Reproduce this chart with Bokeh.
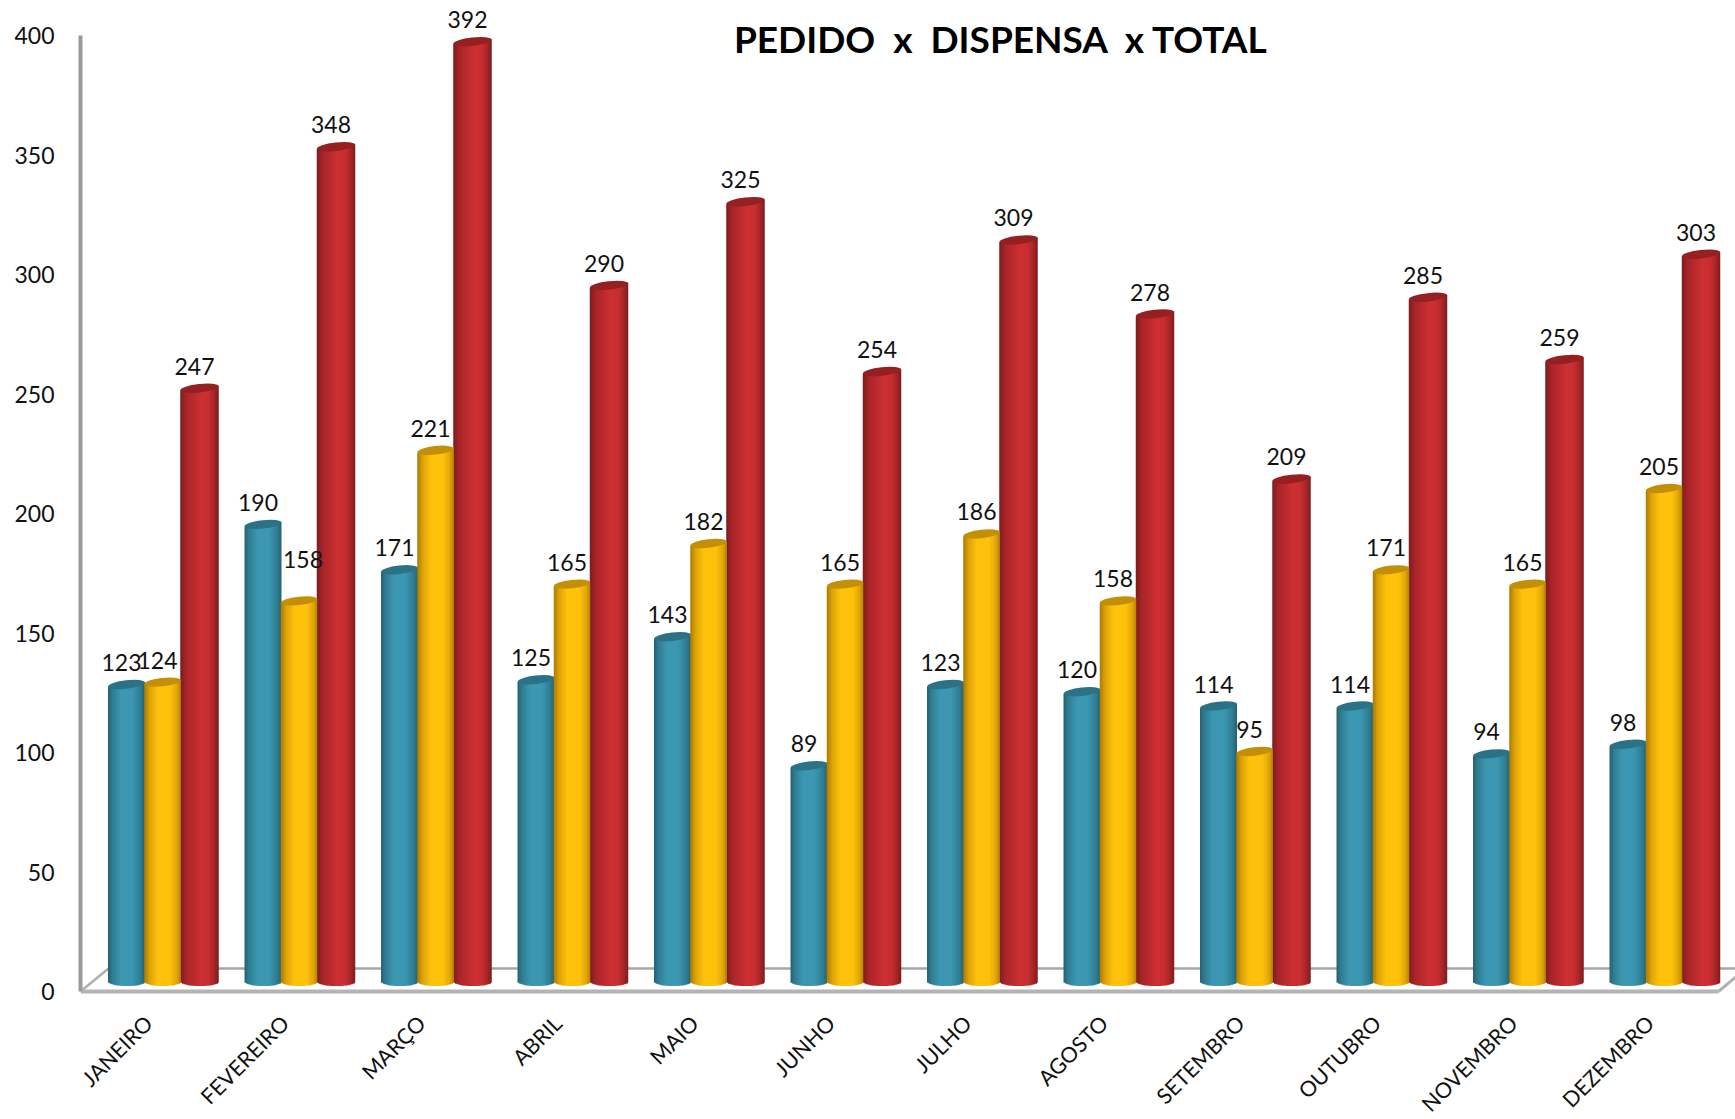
import numpy as np
from bokeh.embed import file_html
from bokeh.resources import INLINE
from bokeh.plotting import figure
from bokeh.models import Range1d, LinearAxis, FixedTicker, Label, ColumnDataSource
from bokeh.core.properties import value

meses = ["JANEIRO", "FEVEREIRO", "MARÇO", "ABRIL", "MAIO", "JUNHO", "JULHO",
         "AGOSTO", "SETEMBRO", "OUTUBRO", "NOVEMBRO", "DEZEMBRO"]
pedido = [123, 190, 171, 125, 143, 89, 123, 120, 114, 114, 94, 98]
dispensa = [124, 158, 221, 165, 182, 165, 186, 158, 95, 171, 165, 205]
total = [247, 348, 392, 290, 325, 254, 309, 278, 209, 285, 259, 303]
y_ticks = [0, 50, 100, 150, 200, 250, 300, 350, 400]
titulo = "PEDIDO \u00a0x \u00a0DISPENSA \u00a0x TOTAL"

W, H = 1735, 1119
LEFT, BOTTOM = 80, 991
PX_X = 136.5
PX_Y = 2.39
x0 = (LEFT - 162) / PX_X
x1 = (W - 162) / PX_X
y_floor = -13 / PX_Y
y0 = y_floor - (H - BOTTOM) / PX_Y
y1 = y_floor + BOTTOM / PX_Y
FONT = "Lato"

p = figure(width=W, height=H, output_backend="svg", toolbar_location=None,
           x_range=Range1d(x0, x1), y_range=Range1d(y0, y1),
           min_border_left=LEFT, min_border_right=0, min_border_top=0, min_border_bottom=0,
           outline_line_color=None, background_fill_color="white", x_axis_type=None, y_axis_type=None)
p.grid.visible = False

# Floor of the 3D box
back_y = 10 / PX_Y
xb = (108 - 162) / PX_X
p.line([xb, x1 + .1], [back_y, back_y], line_color="#a6a6a6", line_width=2.5)
p.line([x0, xb], [y_floor, back_y], line_color="#b0b0b0", line_width=2.5)
p.line([11.399, 11.53], [y_floor, y_floor + 15 / PX_Y], line_color="#b0b0b0", line_width=3)

# Axes
p.extra_y_ranges = {"eixo": Range1d(-(H - BOTTOM) / PX_Y, BOTTOM / PX_Y)}
ya = LinearAxis(y_range_name="eixo", ticker=FixedTicker(ticks=y_ticks), bounds=(0, 400),
                axis_line_color="#9a9a9a", axis_line_width=4,
                major_tick_line_color=None, minor_tick_line_color=None,
                major_label_text_font=FONT, major_label_text_font_size="23px",
                major_label_text_color="#111111", major_label_standoff=20)
p.add_layout(ya, "left")
xa = LinearAxis(ticker=FixedTicker(ticks=[]),
                axis_line_color="#b4b4b4", axis_line_width=4, bounds=(x0, 11.399),
                major_tick_line_color=None, minor_tick_line_color=None, fixed_location=y_floor)
p.add_layout(xa, "below")

# Month labels
mes_src = ColumnDataSource(dict(x=list(range(len(meses))), y=[y_floor] * len(meses), t=meses))
p.text(x="x", y="y", text="t", x_offset=-14, y_offset=28, angle=np.pi / 4, source=mes_src,
       text_align="right", text_baseline="middle", text_font=value(FONT),
       text_font_size="21.5px", text_color="#111111")


def lerp(profile, t):
    ts = [a for a, _ in profile]
    rgb = [[int(c[i:i + 2], 16) for _, c in profile] for i in (1, 3, 5)]
    return "#%02x%02x%02x" % tuple(int(round(np.interp(t, ts, ch))) for ch in rgb)


def cylinders(vals, dx_px, w_px, profile, top_col):
    n = 22
    w = w_px / PX_X
    L, R, T, B, C = [], [], [], [], []
    for i, v in enumerate(vals):
        cx = i + dx_px / PX_X
        for k in range(n):
            a, b = k / n, (k + 1) / n
            m = (a + b) / 2
            s = 2 * m - 1
            L.append(cx - w / 2 + a * w)
            R.append(cx - w / 2 + min(1, b + 0.6 / n) * w)
            T.append(v + s * 1.0)
            B.append((-3 - 4.5 * np.sqrt(1 - s * s)) / PX_Y)
            C.append(lerp(profile, m))
    p.quad(left=L, right=R, top=T, bottom=B, fill_color=C, line_color=None)
    src = ColumnDataSource(dict(x=[i + dx_px / PX_X for i in range(len(vals))], y=vals))
    p.ellipse(x="x", y="y", width=w * 1.0, height=8.5 / PX_Y, angle=0.11,
              fill_color=top_col, line_color=None, source=src)


blue = [(0, "#25616f"), (.12, "#2f7d92"), (.35, "#3c97b2"), (.65, "#3c97b2"), (.88, "#2f7d92"), (1, "#25616f")]
yellow = [(0, "#a97a05"), (.15, "#dfa408"), (.38, "#ffc20c"), (.7, "#ffc20c"), (.9, "#e0a507"), (1, "#b0820a")]
red = [(0, "#7a1c1e"), (.15, "#a82428"), (.55, "#cd3033"), (.75, "#c72d30"), (.9, "#a02427"), (1, "#7a1c1e")]

cylinders(pedido, -36, 37, blue, "#2b7286")
cylinders(total, 37, 38.5, red, "#961f22")
cylinders(dispensa, 0, 36.5, yellow, "#c28f06")


# Data labels
def labels(vals, dx_px, dx=None, dy=None):
    n = len(vals)
    src = ColumnDataSource(dict(
        x=[i + dx_px / PX_X for i in range(n)], y=vals, t=[str(v) for v in vals],
        xo=[-5 + (dx[i] if dx else 0) for i in range(n)],
        yo=[-22 + (dy[i] if dy else 0) for i in range(n)]))
    p.text(x="x", y="y", text="t", x_offset="xo", y_offset="yo", source=src,
           text_align="center", text_baseline="middle", text_font=value(FONT),
           text_font_size="23px", text_color="#111111")


labels(pedido, -36)
labels(dispensa, 0, dx=[0, 9] + [0] * 10, dy=[0, -19] + [0] * 10)
labels(total, 37)

p.add_layout(Label(x=(1001 - 162) / PX_X, y=(978 - 38) / PX_Y, text=titulo,
                   text_font=FONT, text_font_style="bold", text_font_size="37px",
                   text_color="#000000", text_align="center", text_baseline="middle"))

open("out.html", "w").write(file_html(p, INLINE))
